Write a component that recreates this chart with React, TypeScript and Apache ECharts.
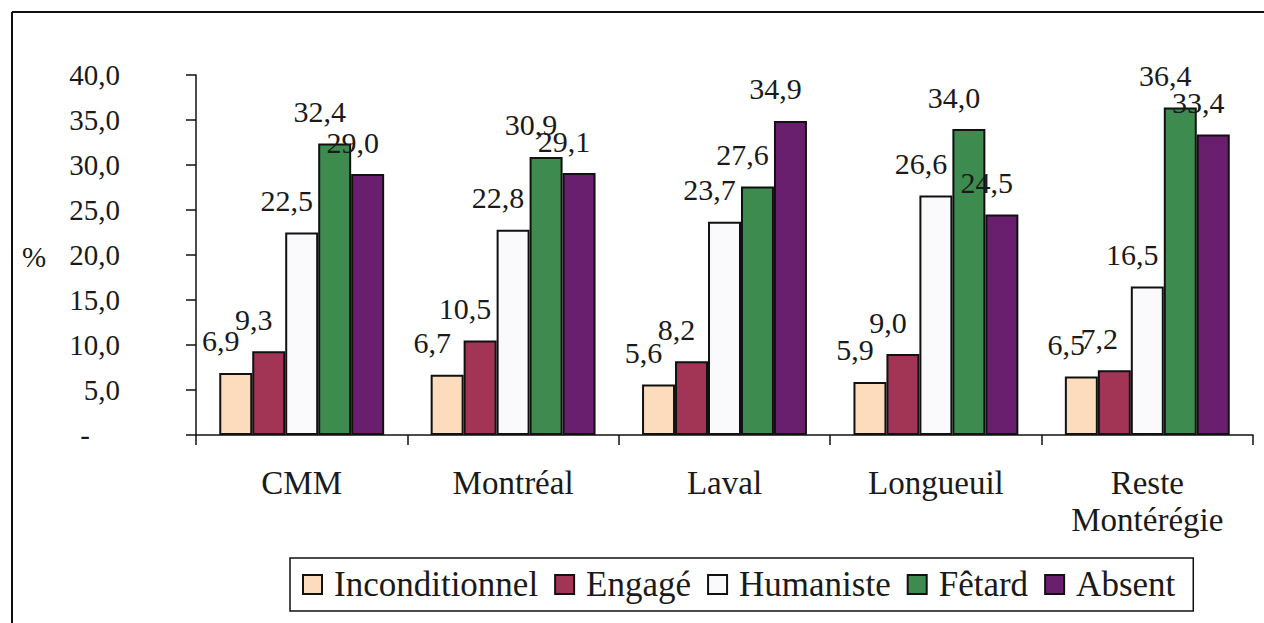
import React, { useEffect, useRef } from "react";
import * as echarts from "echarts";

const categories = ["CMM", "Montréal", "Laval", "Longueuil", "Reste\nMontérégie"];
const seriesNames = ["Inconditionnel", "Engagé", "Humaniste", "Fêtard", "Absent"];
const inconditionnel = [6.9, 6.7, 5.6, 5.9, 6.5];
const engage = [9.3, 10.5, 8.2, 9.0, 7.2];
const humaniste = [22.5, 22.8, 23.7, 26.6, 16.5];
const fetard = [32.4, 30.9, 27.6, 34.0, 36.4];
const absent = [29.0, 29.1, 34.9, 24.5, 33.4];
const colors = ["#FCDCBC", "#A23456", "#FAFAFC", "#3E8B50", "#6A1E6E"];
const yTicks = { min: 0, max: 40, interval: 5 };

const FONT = "Liberation Serif";
const fmt = (v: number) => v.toFixed(1).replace(".", ",");

export default function App() {
  const ref = useRef<HTMLDivElement>(null);
  useEffect(() => {
    if (!ref.current) return;
    const chart = echarts.init(ref.current, null, { renderer: "svg" });
    const allData = [inconditionnel, engage, humaniste, fetard, absent];
    chart.setOption({
      animation: false,
      backgroundColor: "#ffffff",
      textStyle: { fontFamily: FONT },
      grid: { left: 196, right: 11, top: 75, bottom: 188, containLabel: false },
      legend: {
        left: 290,
        top: 558,
        orient: "horizontal",
        icon: "rect",
        itemWidth: 19,
        itemHeight: 19,
        itemGap: 16,
        padding: [9, 18, 9, 12],
        borderColor: "#111",
        borderWidth: 1.5,
        textStyle: { fontFamily: FONT, fontSize: 35, color: "#1a1a1a", padding: [0, 0, 0, 7] },
        data: seriesNames,
      },
      xAxis: {
        type: "category",
        data: categories,
        axisLine: { lineStyle: { color: "#111", width: 1.5 } },
        axisTick: { show: true, length: 10, inside: false, alignWithLabel: false, lineStyle: { color: "#111", width: 1.5 } },
        axisLabel: { fontFamily: FONT, fontSize: 33, lineHeight: 37, color: "#1a1a1a", margin: 29, interval: 0 },
      },
      yAxis: {
        type: "value",
        min: yTicks.min,
        max: yTicks.max,
        interval: yTicks.interval,
        splitLine: { show: false },
        axisLine: { show: true, lineStyle: { color: "#111", width: 1.5 } },
        axisTick: { show: true, length: 10, lineStyle: { color: "#111", width: 1.5 } },
        axisLabel: {
          fontFamily: FONT,
          fontSize: 29,
          color: "#1a1a1a",
          margin: 76,
          align: "right",
          formatter: (v: number) => (v === 0 ? "{d|-}" : fmt(v)),
          rich: { d: { fontFamily: FONT, fontSize: 29, color: "#1a1a1a", padding: [0, 30, 0, 0] } },
        },
      },
      graphic: [
        { type: "line", shape: { x1: 12, y1: 12, x2: 1264, y2: 12 }, style: { stroke: "#111", lineWidth: 2 } },
        { type: "line", shape: { x1: 12, y1: 12, x2: 12, y2: 623 }, style: { stroke: "#111", lineWidth: 2 } },
        { type: "text", left: 22, top: 242, style: { text: "%", fontFamily: FONT, fontSize: 29, fill: "#1a1a1a" } },
      ],
      series: seriesNames.map((name, i) => ({
        name,
        type: "bar",
        data: allData[i],
        barGap: "0%",
        barCategoryGap: "22%",
        itemStyle: { color: colors[i], borderColor: "#111", borderWidth: 2 },
        label: {
          show: true,
          position: "top",
          distance: 17,
          offset: [-15, 0],
          fontFamily: FONT,
          fontSize: 30,
          color: "#1a1a1a",
          formatter: (p: any) => fmt(p.value),
        },
      })),
    });
    return () => chart.dispose();
  }, []);
  return (
    <div
      ref={ref}
      style={{ position: "fixed", left: 0, top: 0, width: 1264, height: 623 }}
    />
  );
}
